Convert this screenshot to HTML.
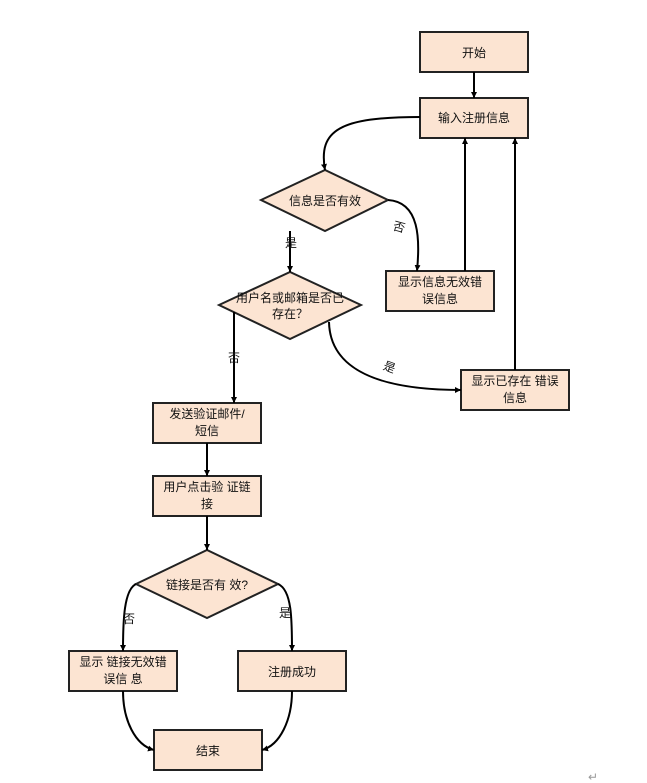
<!DOCTYPE html>
<html><head><meta charset="utf-8"><style>
html,body{margin:0;padding:0;background:#fff;}
svg{display:block;}
text{font-family:"Liberation Sans","Noto Sans CJK SC",sans-serif;font-size:12px;fill:#111;}
</style></head><body>
<svg width="647" height="783" viewBox="0 0 647 783" xmlns="http://www.w3.org/2000/svg">
<defs>
<marker id="a" viewBox="0 0 10 10" refX="10" refY="5" markerWidth="6" markerHeight="6" orient="auto" markerUnits="userSpaceOnUse">
<path d="M0,0 L10,5 L0,10 z" fill="#000"/>
</marker>
</defs>
<g fill="#fce4d2" stroke="#222" stroke-width="2">
<rect x="420" y="32" width="108" height="40"/>
<rect x="420" y="98" width="108" height="40"/>
<polygon points="261,200 325,170 388,200 325,231"/>
<rect x="386" y="271" width="108" height="40"/>
<polygon points="219,305 290,272 361,305 290,339"/>
<rect x="461" y="370" width="108" height="40"/>
<rect x="153" y="403" width="108" height="40"/>
<rect x="153" y="476" width="108" height="40"/>
<polygon points="136,584 207,550 278,584 207,618"/>
<rect x="69" y="651" width="108" height="40"/>
<rect x="238" y="651" width="108" height="40"/>
<rect x="154" y="730" width="108" height="40"/>
</g>
<g fill="none" stroke="#000" stroke-width="2">
<path d="M474,72 V98" marker-end="url(#a)"/>
<path d="M420,117 C340,117 318,130 325,170" marker-end="url(#a)"/>
<path d="M388,200 C420,202 420,240 417,271" marker-end="url(#a)"/>
<path d="M465,271 V138" marker-end="url(#a)"/>
<path d="M515,370 V138" marker-end="url(#a)"/>
<path d="M290,231 V272" marker-end="url(#a)"/>
<path d="M234,312 V403" marker-end="url(#a)"/>
<path d="M329,322 C330,370 380,390 461,390" marker-end="url(#a)"/>
<path d="M207,443 V476" marker-end="url(#a)"/>
<path d="M207,516 V550" marker-end="url(#a)"/>
<path d="M136,584 C124,590 123,620 123,651" marker-end="url(#a)"/>
<path d="M278,584 C292,590 292,620 292,651" marker-end="url(#a)"/>
<path d="M123,691 C123,720 135,745 154,750" marker-end="url(#a)"/>
<path d="M292,691 C292,720 280,745 262,750" marker-end="url(#a)"/>
</g>
<g text-anchor="middle">
<text x="474" y="57">开始</text>
<text x="474" y="122">输入注册信息</text>
<text x="325" y="205">信息是否有效</text>
<text x="440" y="286">显示信息无效错</text>
<text x="440" y="303">误信息</text>
<text x="290" y="302">用户名或邮箱是否已</text>
<text x="290" y="318">存在？</text>
<text x="515" y="385">显示已存在 错误</text>
<text x="515" y="402">信息</text>
<text x="207" y="418">发送验证邮件/</text>
<text x="207" y="435">短信</text>
<text x="207" y="491">用户点击验 证链</text>
<text x="207" y="508">接</text>
<text x="207" y="589">链接是否有 效?</text>
<text x="123" y="666">显示 链接无效错</text>
<text x="123" y="683">误信 息</text>
<text x="292" y="676">注册成功</text>
<text x="208" y="755">结束</text>
<text x="291" y="247" style="font-size:12px">是</text>
<text x="398" y="231" transform="rotate(15 398 231)">否</text>
<text x="234" y="362">否</text>
<text x="388" y="371" transform="rotate(20 388 371)">是</text>
<text x="129" y="623">否</text>
<text x="285" y="617">是</text>
</g>
<text x="588" y="781" style="fill:#999">↵</text>
</svg>
</body></html>
